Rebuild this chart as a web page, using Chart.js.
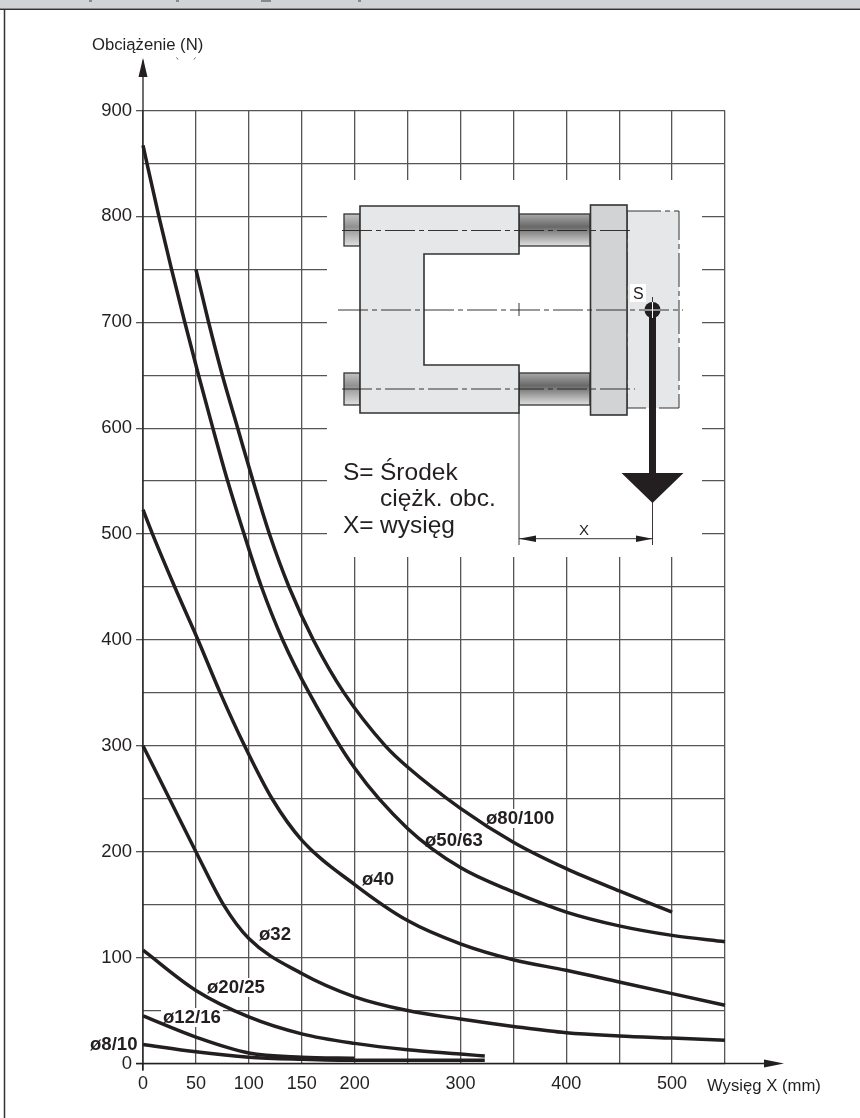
<!DOCTYPE html>
<html lang="pl">
<head>
<meta charset="utf-8">
<title>Obciążenie a wysięg</title>
<style>
  html, body { margin: 0; padding: 0; background: #fff; }
  canvas { display: block; }
</style>
<script src="https://cdn.jsdelivr.net/npm/chart.js@4/dist/chart.umd.min.js"></script>
</head>
<body>
<canvas id="chart" width="860" height="1118"></canvas>
<script>
// ── Data ───────────────────────────────────────────────
const xTickLabels = [0, 50, 100, 150, 200, 300, 400, 500];
const yTickLabels = [0, 100, 200, 300, 400, 500, 600, 700, 800, 900];

const x80 = [50, 62, 75, 89.5, 104, 119.5, 138, 161, 190, 229, 250, 300, 350, 400, 450, 500];
const y80 = [750, 700, 650, 600, 550, 500, 450, 400, 350, 300, 280, 241, 209, 184, 163, 143];

const x50 = [0, 15, 27, 39.5, 52.5, 66, 80, 95.5, 112, 132, 157, 200, 250, 300, 350, 400, 450, 500, 550];
const y50 = [867, 800, 750, 700, 650, 600, 550, 500, 450, 400, 350, 279, 222, 185, 162, 143, 130, 121, 115];

const x40 = [0, 9, 30, 52, 73, 96, 122, 150, 200, 250, 300, 350, 400, 450, 500, 550];
const y40 = [523, 500, 450, 400, 350, 300, 250, 211, 169, 135, 113, 98, 88, 77, 66, 55];

const x32 = [0, 25, 50, 76, 100, 150, 200, 250, 300, 350, 400, 450, 500, 550];
const y32 = [300, 250, 200, 150, 118, 85, 63, 50, 42, 35, 29, 26, 24, 22];

const x20 = [0, 50, 100, 150, 200, 250, 300, 323];
const y20 = [107, 69, 44, 28, 19, 13, 9, 7];

const x12 = [0, 50, 100, 150, 200];
const y12 = [45, 25, 10, 6, 5];

const x8 = [0, 50, 100, 150, 200, 323];
const y8 = [18, 11, 6, 4, 3, 3];

const curveNames = ['ø80/100', 'ø50/63', 'ø40', 'ø32', 'ø20/25', 'ø12/16', 'ø8/10'];
const yAxisTitle = 'Obciążenie (N)';
const xAxisTitle = 'Wysięg X (mm)';

// ── Styles ─────────────────────────────────────────────
const INK = '#231f20';
const GRID = '#555555';
const FONT = '"Liberation Sans", Arial, sans-serif';

// left edge and baseline of each curve label, same order as curveNames
const labelSpots = [[486, 824], [425, 846], [362, 885], [259, 940], [207, 993], [163, 1023], [90, 1050]];

function zip(xs, ys) {
    return xs.map((x, i) => ({ x, y: ys[i] }));
}

function curve(xs, ys, label) {
    return {
        label,
        data: zip(xs, ys),
        showLine: true,
        borderColor: INK,
        borderWidth: 3.5,
        pointRadius: 0,
        cubicInterpolationMode: 'monotone',
        clip: false
    };
}

// ── Drawing helpers ────────────────────────────────────
function line(c, x1, y1, x2, y2) {
    c.beginPath(); c.moveTo(x1, y1); c.lineTo(x2, y2); c.stroke();
}

function poly(c, pts) {
    c.beginPath();
    pts.forEach((p, i) => i ? c.lineTo(p[0], p[1]) : c.moveTo(p[0], p[1]));
    c.closePath();
}

function shaded(c, x, y, w, h, top, mid, bot) {
    const g = c.createLinearGradient(0, y, 0, y + h);
    g.addColorStop(0, top);
    g.addColorStop(0.4, mid);
    g.addColorStop(1, bot);
    c.fillStyle = g;
    c.fillRect(x, y, w, h);
    c.strokeRect(x, y, w, h);
}

// ── Inset drawing of the slide ─────────────────────────
function drawInset(c) {
    // white hole in the grid
    c.fillStyle = '#fff';
    c.fillRect(327, 180, 375, 377);

    // load block
    c.fillStyle = '#e6e7e8';
    c.fillRect(627, 211, 52, 197);
    c.strokeStyle = '#333';
    c.lineWidth = 1;
    c.setLineDash([34, 4, 5, 4]);
    c.strokeRect(627, 211, 52, 197);
    c.setLineDash([]);

    // rods and end stops
    c.strokeStyle = '#333';
    c.lineWidth = 1.3;
    [214, 373].forEach(y => {
        shaded(c, 519, y, 71, 32, '#a8a8a8', '#686868', '#e0e0e0');
        shaded(c, 344, y, 16, 32, '#c4c4c4', '#909090', '#e0e0e0');
    });

    // C-shaped body
    c.fillStyle = '#e6e7e8';
    c.lineWidth = 1.6;
    poly(c, [[360, 206], [519, 206], [519, 254], [424, 254], [424, 365], [519, 365], [519, 413], [360, 413]]);
    c.fill();
    c.stroke();

    // front plate
    c.fillStyle = '#d1d3d4';
    c.fillRect(590.5, 205, 36.5, 210);
    c.strokeRect(590.5, 205, 36.5, 210);

    // centre lines
    c.strokeStyle = INK;
    c.lineWidth = 0.9;
    c.setLineDash([30, 4, 5, 4]);
    line(c, 342, 230.5, 633, 230.5);
    line(c, 342, 389, 635, 389);
    line(c, 338, 310, 683, 310);
    c.setLineDash([]);
    line(c, 519, 303, 519, 316);

    // dimension lines
    line(c, 519, 413, 519, 545);
    line(c, 652.5, 297, 652.5, 545);
    line(c, 519, 538.7, 652.5, 538.7);
    c.fillStyle = INK;
    poly(c, [[519, 538.7], [536, 535.5], [536, 542]]);
    c.fill();
    poly(c, [[652.5, 538.7], [636, 535.5], [636, 542]]);
    c.fill();

    // load arrow
    c.fillRect(649, 315, 7, 160);
    poly(c, [[621.5, 473], [683.5, 473], [652.5, 503]]);
    c.fill();

    // centre of gravity mark
    c.beginPath();
    c.arc(652.5, 310, 8, 0, Math.PI * 2);
    c.fill();
    c.strokeStyle = '#fff';
    c.lineWidth = 1;
    line(c, 652.5, 302, 652.5, 318);
    line(c, 644.5, 310, 660.5, 310);

    // S tag
    c.fillStyle = '#fff';
    c.fillRect(630, 284, 16, 18);
    c.fillStyle = INK;
    c.textAlign = 'left';
    c.textBaseline = 'alphabetic';
    c.font = '16px ' + FONT;
    c.fillText('S', 633, 299);
    c.font = '15px ' + FONT;
    c.fillText('X', 579, 535);

    // legend text
    c.font = '24.5px ' + FONT;
    c.fillText('S=', 343, 480);
    c.fillText('Środek', 380, 480);
    c.fillText('ciężk. obc.', 380, 506);
    c.fillText('X=', 343, 533);
    c.fillText('wysięg', 380, 533);
}

// ── Plugin: frame, inset, labels, axes ─────────────────
const decor = {
    id: 'decor',
    beforeDatasetsDraw(chart) {
        const c = chart.ctx;
        c.save();
        drawInset(c);

        // white patches behind the curve labels
        c.font = 'bold 18.6px ' + FONT;
        c.fillStyle = '#fff';
        curveNames.forEach((name, i) => {
            const w = c.measureText(name).width;
            c.fillRect(labelSpots[i][0] - 2, labelSpots[i][1] - 15, w + 4, 19);
        });
        c.restore();
    },
    afterDatasetsDraw(chart) {
        const c = chart.ctx;
        const { left, bottom, top } = chart.chartArea;
        c.save();

        // banner at the top of the page
        c.fillStyle = '#d1d3d4';
        c.fillRect(0, 0, 860, 8.5);
        c.strokeStyle = '#333';
        c.lineWidth = 1.5;
        line(c, 0, 9.3, 860, 9.3);
        line(c, 4.5, 9, 4.5, 1118);

        // remains of the clipped title
        c.strokeStyle = '#55575a';
        c.lineWidth = 1.2;
        [[89, 92], [176, 179], [261, 271], [358, 361]].forEach(d => line(c, d[0], 1, d[1], 1));

        // axes with arrow heads
        c.strokeStyle = INK;
        c.fillStyle = INK;
        c.lineWidth = 1.3;
        line(c, left, bottom + 7, left, top - 50);
        line(c, left - 7, bottom, 770, bottom);
        poly(c, [[left, 58], [left - 4.5, 77], [left + 4.5, 77]]);
        c.fill();
        poly(c, [[784, bottom], [764, bottom - 4], [764, bottom + 4]]);
        c.fill();

        // axis titles
        c.textAlign = 'left';
        c.textBaseline = 'alphabetic';
        c.font = '16.7px ' + FONT;
        c.fillText(yAxisTitle, 92, 50);
        c.fillText(xAxisTitle, 707, 1091);

        // stray marks under the y title
        c.lineWidth = 0.7;
        line(c, 176.5, 57.5, 178, 59.5);
        line(c, 195.5, 57.5, 194, 59.5);

        // curve labels
        c.font = 'bold 18.6px ' + FONT;
        curveNames.forEach((name, i) => c.fillText(name, labelSpots[i][0], labelSpots[i][1]));
        c.restore();
    }
};

// ── Chart ──────────────────────────────────────────────
new Chart(document.getElementById('chart'), {
    type: 'scatter',
    data: {
        datasets: [
            curve(x80, y80, curveNames[0]),
            curve(x50, y50, curveNames[1]),
            curve(x40, y40, curveNames[2]),
            curve(x32, y32, curveNames[3]),
            curve(x20, y20, curveNames[4]),
            curve(x12, y12, curveNames[5]),
            curve(x8, y8, curveNames[6])
        ]
    },
    options: {
        responsive: false,
        animation: false,
        devicePixelRatio: 1,
        layout: { padding: { top: 110.5, right: 135, left: 0, bottom: 0 } },
        plugins: { legend: { display: false }, tooltip: { enabled: false } },
        scales: {
            x: {
                type: 'linear',
                min: 0,
                max: 550,
                afterFit: s => { s.height = 54.5; },
                border: { display: false },
                grid: {
                    color: GRID,
                    lineWidth: 1.3,
                    tickLength: 7,
                    tickColor: ctx => ctx.tick && ctx.tick.value === 0 ? INK : 'rgba(0,0,0,0)'
                },
                ticks: {
                    stepSize: 50,
                    autoSkip: false,
                    maxRotation: 0,
                    padding: 3,
                    color: INK,
                    font: { family: 'Liberation Sans', size: 18 },
                    callback: v => xTickLabels.includes(v) ? String(v) : ''
                }
            },
            y: {
                type: 'linear',
                min: 0,
                max: 900,
                afterFit: s => { s.width = 143; },
                border: { display: false },
                grid: {
                    color: GRID,
                    lineWidth: 1.3,
                    tickLength: 7,
                    tickColor: ctx => ctx.tick && yTickLabels.includes(ctx.tick.value) ? GRID : 'rgba(0,0,0,0)'
                },
                ticks: {
                    stepSize: 50,
                    autoSkip: false,
                    padding: 4,
                    color: INK,
                    font: { family: 'Liberation Sans', size: 18.5 },
                    callback: v => yTickLabels.includes(v) ? String(v) : ''
                }
            }
        }
    },
    plugins: [decor]
});
</script>
</body>
</html>
